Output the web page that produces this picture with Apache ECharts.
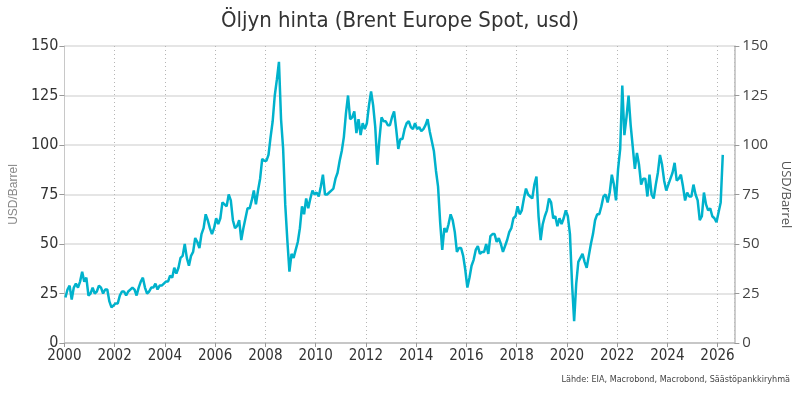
<!DOCTYPE html>
<html lang="fi">
<head>
    <meta http-equiv="Content-Type" content="text/html; charset=UTF-8">
    <title>Öljyn hinta</title>
    <script type="text/javascript" src="https://cdn.jsdelivr.net/npm/echarts@6/dist/echarts.min.js"></script>
    <style>
        html, body { margin: 0; padding: 0; background: #fff; }
    </style>
</head>
<body>
<div id="main" style="width: 800px; height: 399px;"></div>
<script type="text/javascript">
    // Brent spot, kuukausittain (luettu kuvasta), alkaen 2000-01
    var startYear = 2000;
    var brent = [
        23, 27, 29, 22, 28, 30, 28, 31, 36, 31, 33, 24,          // 2000
        25, 28, 25, 26, 29, 28, 25, 27, 27, 21, 18, 19,          // 2001
        20, 20, 24, 26, 26, 24, 26, 27, 28, 27, 24, 28,          // 2002
        31, 33, 28, 25, 26, 28, 28, 30, 27, 29, 29, 30,          // 2003
        31, 31, 34, 33, 38, 35, 38, 43, 44, 50, 43, 39,          // 2004
        44, 46, 53, 51, 48, 55, 58, 65, 62, 58, 55, 58,          // 2005
        63, 60, 63, 71, 70, 69, 75, 72, 62, 58, 59, 62,          // 2006
        52, 58, 63, 68, 68, 72, 77, 70, 77, 83, 93, 92,          // 2007
        92, 95, 104, 112, 125, 133, 142, 113, 98, 70, 52, 36,    // 2008
        45, 43, 47, 51, 58, 69, 65, 73, 68, 73, 77, 75,          // 2009
        76, 74, 79, 85, 75, 75, 76, 77, 78, 83, 86, 92,          // 2010
        97, 104, 116, 125, 113, 114, 117, 106, 113, 105, 111, 108, // 2011
        111, 120, 127, 120, 109, 90, 103, 114, 112, 112, 110, 110, // 2012
        114, 117, 108, 98, 103, 103, 108, 111, 112, 109, 108, 111, // 2013
        108, 109, 107, 108, 110, 113, 107, 102, 97, 87, 79, 61,  // 2014
        47, 58, 56, 60, 65, 62, 56, 46, 48, 48, 44, 37,          // 2015
        28, 33, 39, 42, 47, 49, 45, 46, 46, 50, 45, 54,          // 2016
        55, 55, 51, 53, 50, 46, 49, 52, 56, 58, 63, 64,          // 2017
        69, 65, 67, 73, 78, 75, 74, 73, 80, 84, 64, 52,          // 2018
        60, 64, 67, 73, 71, 63, 64, 59, 63, 60, 63, 67,          // 2019
        64, 55, 30, 11, 30, 41, 43, 45, 41, 38, 44, 50,          // 2020
        55, 62, 65, 65, 69, 74, 75, 71, 76, 85, 80, 72,          // 2021
        88, 98, 130, 105, 114, 125, 110, 99, 88, 96, 90, 80,     // 2022
        83, 83, 74, 85, 75, 73, 80, 86, 95, 90, 82, 77,          // 2023
        80, 83, 86, 91, 82, 83, 85, 79, 72, 76, 74, 74,          // 2024
        80, 75, 72, 62, 64, 76, 70, 67, 68, 64, 63, 61,          // 2025
        66, 71, 95                                               // 2026
    ];
    var yearTicks = [2000, 2002, 2004, 2006, 2008, 2010, 2012, 2014, 2016, 2018, 2020, 2022, 2024, 2026];

    var seriesData = brent.map(function (v, i) {
        return [startYear + (i + 0.5) / 12, v];
    });

    var narrow = '"Liberation Sans Narrow", "DejaVu Sans Condensed", sans-serif';
    var myChart = echarts.init(document.getElementById('main'), null, {renderer: 'canvas'});

    myChart.setOption({
        animation: false,
        title: {
            text: 'Öljyn hinta (Brent Europe Spot, usd)',
            left: 'center',
            top: 5,
            textStyle: {
                fontFamily: narrow,
                fontWeight: 'normal',
                fontSize: 22,
                color: '#333'
            }
        },
        grid: {
            left: 63,
            right: 62,
            top: 46,
            bottom: 56
        },
        xAxis: {
            type: 'value',
            min: 2000,
            max: 2026.67,
            interval: 2,
            axisLine: { show: true, lineStyle: { color: '#bdbdbd', width: 1.5 } },
            axisTick: { show: true, length: 4, lineStyle: { color: '#999' } },
            axisLabel: {
                showMaxLabel: false,
                fontFamily: narrow,
                fontSize: 15,
                color: '#333',
                margin: 6,
                formatter: function (v) {
                    return yearTicks.indexOf(v) >= 0 ? String(v) : '';
                }
            },
            splitLine: {
                show: true,
                lineStyle: { color: '#b5b5b5', type: [1, 3], width: 1 }
            }
        },
        yAxis: [{
            type: 'value',
            min: 0,
            max: 150,
            interval: 25,
            position: 'left',
            name: 'USD/Barrel',
            nameLocation: 'middle',
            nameGap: 44,
            nameRotate: 90,
            nameTextStyle: { color: '#888', fontSize: 12, fontFamily: 'sans-serif' },
            axisLine: { show: true, lineStyle: { color: '#c8c8c8' } },
            axisTick: { show: true, length: 5, lineStyle: { color: '#999' } },
            axisLabel: { fontFamily: narrow, fontSize: 16, color: '#333', margin: 6 },
            splitLine: { show: true, lineStyle: { color: '#dcdcdc', width: 1.5 } }
        }, {
            type: 'value',
            min: 0,
            max: 150,
            interval: 25,
            position: 'right',
            name: 'USD/Barrel',
            nameLocation: 'middle',
            nameGap: 44,
            nameRotate: -90,
            nameTextStyle: { color: '#555', fontSize: 13, fontFamily: '"Open Sans", sans-serif' },
            axisLine: { show: true, lineStyle: { color: '#bdbdbd', width: 1.5 } },
            axisTick: { show: true, length: 5, lineStyle: { color: '#999' } },
            axisLabel: { fontFamily: '"Open Sans", sans-serif', fontSize: 15, color: '#444', margin: 8 },
            splitLine: { show: false }
        }],
        series: [{
            type: 'line',
            data: seriesData,
            showSymbol: false,
            smooth: false,
            lineStyle: { color: '#00b2cc', width: 2.5 },
            itemStyle: { color: '#00b2cc' }
        }],
        graphic: [{
            type: 'text',
            right: 10,
            top: 375,
            style: {
                text: 'Lähde: EIA, Macrobond, Macrobond, Säästöpankkiryhmä',
                font: '9px ' + narrow,
                fill: '#444'
            }
        }]
    });
</script>
</body>
</html>
